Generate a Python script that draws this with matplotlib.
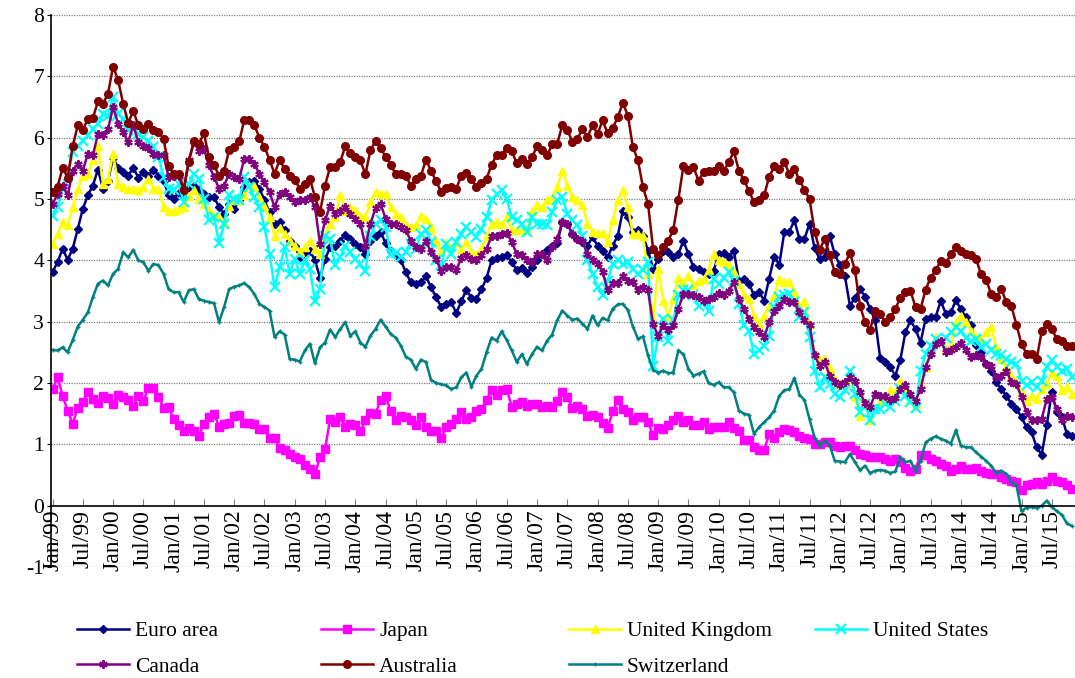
import matplotlib
matplotlib.use('Agg')
import matplotlib.pyplot as plt
import pandas as pd

plt.rcParams['font.family'] = ['Liberation Serif', 'DejaVu Serif']
plt.rcParams['font.size'] = 15.5
plt.rcParams['axes.unicode_minus'] = False

# monthly values, Jan 1999 - Nov 2015 (one row per year)
euro_area = [
    3.81, 3.97, 4.19, 4.01, 4.19, 4.51, 4.84, 5.06, 5.22, 5.48, 5.17, 5.3,
    5.67, 5.51, 5.44, 5.38, 5.51, 5.35, 5.44, 5.38, 5.48, 5.38, 5.3, 5.06,
    5.0, 5.1, 5.03, 5.19, 5.22, 5.14, 5.08, 5.03, 5.03, 4.87, 4.76, 4.92,
    4.84, 4.98, 5.19, 5.27, 5.3, 5.17, 4.98, 4.78, 4.6, 4.62, 4.49, 4.32,
    4.24, 4.05, 4.13, 4.16, 4.0, 3.72, 4.02, 4.21, 4.24, 4.32, 4.42, 4.35,
    4.27, 4.21, 4.1, 4.32, 4.39, 4.46, 4.28, 4.16, 4.08, 4.0, 3.81, 3.64,
    3.62, 3.64, 3.74, 3.56, 3.4, 3.24, 3.29, 3.32, 3.14, 3.33, 3.52, 3.39,
    3.37, 3.53, 3.71, 4.0, 4.04, 4.06, 4.08, 3.97, 3.84, 3.88, 3.79, 3.89,
    4.0, 4.1, 4.17, 4.24, 4.28, 4.62, 4.6, 4.43, 4.35, 4.3, 4.24, 4.38,
    4.24, 4.16, 4.05, 4.24, 4.4, 4.81, 4.7, 4.46, 4.49, 4.4, 4.16, 3.86,
    4.02, 4.16, 4.13, 4.05, 4.1, 4.32, 4.1, 3.89, 3.86, 3.81, 3.78, 3.83,
    4.1, 4.12, 4.05, 4.16, 3.67, 3.7, 3.62, 3.43, 3.49, 3.34, 3.7, 4.06,
    3.93, 4.46, 4.47, 4.65, 4.35, 4.35, 4.6, 4.2, 4.02, 4.06, 4.4, 4.1,
    3.92, 3.75, 3.26, 3.39, 3.53, 3.41, 3.21, 3.02, 2.41, 2.34, 2.26, 2.12,
    2.38, 2.83, 3.02, 2.88, 2.66, 3.05, 3.08, 3.08, 3.34, 3.13, 3.15, 3.35,
    3.2, 3.07, 2.94, 2.62, 2.5, 2.31, 2.2, 2.01, 1.9, 1.79, 1.66, 1.58,
    1.44, 1.28, 1.2, 0.95, 0.83, 1.31, 1.85, 1.52, 1.44, 1.17, 1.13,
]

japan = [
    1.9, 2.09, 1.79, 1.55, 1.33, 1.6, 1.69, 1.85, 1.74, 1.67, 1.79, 1.76,
    1.65, 1.81, 1.77, 1.72, 1.63, 1.78, 1.7, 1.92, 1.92, 1.77, 1.6, 1.61,
    1.41, 1.31, 1.21, 1.27, 1.21, 1.14, 1.33, 1.45, 1.5, 1.29, 1.33, 1.34,
    1.47, 1.48, 1.34, 1.34, 1.33, 1.25, 1.25, 1.11, 1.1, 0.94, 0.91, 0.84,
    0.79, 0.76, 0.67, 0.6, 0.51, 0.79, 0.92, 1.41, 1.36, 1.45, 1.29, 1.33,
    1.31, 1.21, 1.39, 1.51, 1.5, 1.72, 1.79, 1.54, 1.4, 1.47, 1.44, 1.39,
    1.31, 1.45, 1.28, 1.21, 1.21, 1.11, 1.28, 1.33, 1.41, 1.52, 1.41, 1.45,
    1.54, 1.58, 1.72, 1.89, 1.81, 1.89, 1.9, 1.61, 1.66, 1.69, 1.63, 1.66,
    1.66, 1.61, 1.63, 1.61, 1.71, 1.85, 1.77, 1.59, 1.63, 1.58, 1.47, 1.48,
    1.44, 1.34, 1.26, 1.54, 1.72, 1.58, 1.52, 1.39, 1.44, 1.44, 1.36, 1.15,
    1.27, 1.25, 1.32, 1.39, 1.47, 1.36, 1.39, 1.31, 1.31, 1.36, 1.25, 1.28,
    1.29, 1.28, 1.36, 1.27, 1.22, 1.07, 1.07, 0.95, 0.91, 0.9, 1.17, 1.11,
    1.2, 1.25, 1.24, 1.2, 1.14, 1.11, 1.09, 1.01, 1.0, 1.03, 1.03, 0.98,
    0.95, 0.98, 0.97, 0.9, 0.84, 0.82, 0.8, 0.79, 0.79, 0.76, 0.73, 0.76,
    0.71, 0.62, 0.56, 0.6, 0.83, 0.83, 0.76, 0.73, 0.68, 0.65, 0.57, 0.6,
    0.65, 0.6, 0.6, 0.62, 0.57, 0.54, 0.52, 0.51, 0.46, 0.43, 0.41, 0.38,
    0.26, 0.33, 0.36, 0.38, 0.36, 0.41, 0.46, 0.41, 0.38, 0.33, 0.27,
]

united_kingdom = [
    4.27, 4.43, 4.62, 4.57, 4.87, 5.17, 5.38, 5.41, 5.63, 5.87, 5.25, 5.33,
    5.74, 5.25, 5.2, 5.17, 5.17, 5.15, 5.2, 5.33, 5.17, 5.17, 4.87, 4.81,
    4.8, 4.84, 4.87, 5.05, 5.15, 5.0, 4.92, 4.82, 4.73, 4.7, 4.62, 4.89,
    4.98, 4.99, 5.06, 5.22, 5.22, 5.03, 4.89, 4.7, 4.4, 4.53, 4.43, 4.32,
    4.24, 4.13, 4.21, 4.32, 4.19, 4.1, 4.4, 4.6, 4.7, 5.06, 4.81, 4.87,
    4.82, 4.73, 4.7, 4.95, 5.11, 5.08, 5.08, 4.87, 4.76, 4.7, 4.57, 4.54,
    4.57, 4.73, 4.68, 4.54, 4.32, 4.13, 4.28, 4.21, 4.3, 4.19, 4.3, 4.13,
    4.1, 4.19, 4.39, 4.6, 4.62, 4.59, 4.7, 4.49, 4.49, 4.49, 4.51, 4.8,
    4.9, 4.87, 4.98, 5.03, 5.2, 5.46, 5.22, 5.03, 4.99, 4.91, 4.6, 4.47,
    4.44, 4.45, 4.3, 4.65, 4.98, 5.14, 4.87, 4.43, 4.43, 4.4, 3.78, 3.02,
    3.86, 3.34, 3.1, 3.37, 3.72, 3.64, 3.75, 3.59, 3.67, 3.7, 3.85, 4.1,
    4.0, 3.97, 3.92, 3.81, 3.62, 3.43, 3.37, 3.1, 2.96, 3.1, 3.26, 3.43,
    3.7, 3.64, 3.64, 3.48, 3.26, 3.34, 2.96, 2.47, 2.37, 2.39, 2.25, 2.07,
    1.98, 1.99, 2.07, 1.77, 1.47, 1.69, 1.39, 1.6, 1.69, 1.75, 1.88, 1.85,
    2.04, 1.89, 1.74, 1.66, 1.98, 2.26, 2.53, 2.75, 2.69, 2.56, 2.6, 2.99,
    3.1, 3.0, 2.85, 2.75, 2.72, 2.83, 2.91, 2.58, 2.39, 2.26, 2.12, 2.01,
    1.85, 1.71, 1.79, 1.74, 1.9, 1.98, 2.17, 2.12, 1.88, 1.93, 1.82,
]

united_states = [
    4.73, 4.87, 5.17, 5.38, 5.76, 5.86, 5.95, 6.04, 6.14, 6.23, 6.39, 6.35,
    6.67, 6.39, 6.31, 6.12, 6.2, 6.06, 6.01, 5.95, 5.85, 5.68, 5.36, 5.17,
    5.14, 5.24, 4.95, 5.25, 5.41, 5.33, 5.0, 4.65, 4.7, 4.28, 4.6, 5.06,
    5.0, 4.98, 5.36, 5.19, 5.03, 4.87, 4.54, 4.1, 3.56, 3.89, 4.21, 3.78,
    4.02, 3.78, 4.0, 3.86, 3.34, 3.53, 4.4, 4.35, 3.92, 4.05, 4.24, 4.13,
    4.02, 3.94, 3.83, 4.4, 4.6, 4.65, 4.54, 4.1, 4.12, 4.05, 4.13, 4.27,
    4.19, 4.43, 4.49, 4.3, 4.0, 3.92, 4.27, 4.1, 4.3, 4.43, 4.54, 4.46,
    4.38, 4.51, 4.7, 4.98, 5.08, 5.14, 5.0, 4.7, 4.65, 4.6, 4.46, 4.7,
    4.6, 4.6, 4.57, 4.78, 4.98, 5.03, 4.76, 4.65, 4.57, 4.4, 4.0, 3.78,
    3.56, 3.43, 3.67, 3.94, 4.0, 3.94, 3.97, 3.86, 3.78, 3.85, 3.97, 2.28,
    2.75, 3.05, 2.69, 3.02, 3.43, 3.51, 3.51, 3.43, 3.26, 3.32, 3.18, 3.7,
    3.62, 3.72, 3.81, 3.67, 3.29, 2.94, 2.85, 2.47, 2.53, 2.61, 2.77, 3.24,
    3.4, 3.43, 3.45, 3.32, 3.07, 3.15, 2.75, 2.2, 1.93, 2.09, 1.98, 1.82,
    1.77, 1.88, 2.2, 1.82, 1.52, 1.66, 1.39, 1.58, 1.58, 1.66, 1.61, 1.71,
    1.9, 1.79, 1.69, 1.6, 2.2, 2.47, 2.61, 2.72, 2.66, 2.74, 2.83, 2.91,
    2.85, 2.74, 2.69, 2.72, 2.58, 2.64, 2.53, 2.47, 2.45, 2.39, 2.34, 2.31,
    2.04, 1.96, 2.01, 1.93, 2.04, 2.26, 2.37, 2.26, 2.2, 2.23, 2.09,
]

canada = [
    4.92, 5.08, 5.22, 5.06, 5.46, 5.57, 5.46, 5.74, 5.71, 6.06, 6.04, 6.14,
    6.5, 6.23, 6.09, 5.93, 6.2, 5.93, 5.87, 5.83, 5.73, 5.71, 5.71, 5.36,
    5.38, 5.38, 5.17, 5.63, 5.93, 5.79, 5.82, 5.55, 5.36, 5.17, 5.22, 5.41,
    5.36, 5.33, 5.66, 5.66, 5.57, 5.41, 5.27, 5.11, 4.87, 5.08, 5.11, 5.03,
    4.95, 4.99, 4.98, 5.03, 4.87, 4.27, 4.65, 4.89, 4.76, 4.8, 4.87, 4.76,
    4.68, 4.6, 4.24, 4.6, 4.85, 4.92, 4.68, 4.6, 4.6, 4.54, 4.49, 4.32,
    4.21, 4.19, 4.32, 4.13, 4.02, 3.83, 3.89, 3.89, 3.84, 4.04, 4.08, 4.02,
    4.0, 4.08, 4.19, 4.39, 4.4, 4.43, 4.44, 4.3, 4.1, 4.08, 4.0, 3.97,
    4.1, 4.1, 4.0, 4.21, 4.35, 4.62, 4.6, 4.43, 4.35, 4.32, 4.1, 4.0,
    3.94, 3.81, 3.51, 3.63, 3.63, 3.75, 3.67, 3.64, 3.52, 3.57, 3.51, 2.96,
    2.77, 2.94, 2.87, 2.94, 3.21, 3.45, 3.45, 3.43, 3.4, 3.34, 3.37, 3.41,
    3.46, 3.43, 3.5, 3.64, 3.37, 3.21, 3.05, 2.91, 2.83, 2.75, 2.99, 3.18,
    3.26, 3.37, 3.32, 3.32, 3.15, 3.02, 2.94, 2.45, 2.28, 2.34, 2.12, 2.01,
    1.97, 2.01, 2.09, 2.04, 1.85, 1.67, 1.61, 1.82, 1.79, 1.79, 1.72, 1.76,
    1.9, 1.96, 1.82, 1.71, 1.9, 2.26, 2.47, 2.64, 2.69, 2.5, 2.53, 2.58,
    2.66, 2.53, 2.42, 2.45, 2.42, 2.31, 2.27, 2.09, 2.12, 2.2, 2.01, 1.98,
    1.77, 1.52, 1.39, 1.4, 1.41, 1.74, 1.77, 1.58, 1.39, 1.47, 1.44,
]

australia = [
    5.11, 5.2, 5.51, 5.35, 5.86, 6.2, 6.12, 6.31, 6.32, 6.59, 6.55, 6.72,
    7.16, 6.94, 6.55, 6.24, 6.44, 6.2, 6.14, 6.23, 6.13, 6.1, 5.98, 5.53,
    5.41, 5.41, 5.14, 5.6, 5.94, 5.9, 6.07, 5.68, 5.55, 5.38, 5.46, 5.8,
    5.85, 5.94, 6.29, 6.28, 6.2, 6.0, 5.85, 5.64, 5.41, 5.64, 5.49, 5.38,
    5.31, 5.17, 5.25, 5.33, 5.03, 4.78, 5.22, 5.52, 5.52, 5.6, 5.86, 5.75,
    5.68, 5.63, 5.4, 5.8, 5.94, 5.83, 5.69, 5.56, 5.4, 5.4, 5.37, 5.22,
    5.33, 5.38, 5.64, 5.46, 5.29, 5.12, 5.18, 5.2, 5.17, 5.38, 5.42, 5.33,
    5.19, 5.26, 5.33, 5.56, 5.72, 5.72, 5.83, 5.78, 5.58, 5.66, 5.57, 5.68,
    5.86, 5.8, 5.71, 5.89, 5.9, 6.2, 6.13, 5.93, 5.98, 6.14, 6.01, 6.2,
    6.06, 6.28, 6.07, 6.16, 6.33, 6.57, 6.36, 5.85, 5.63, 5.19, 4.92, 4.19,
    4.08, 4.21, 4.32, 4.5, 4.99, 5.53, 5.48, 5.52, 5.3, 5.44, 5.45, 5.46,
    5.53, 5.46, 5.6, 5.78, 5.46, 5.31, 5.13, 4.95, 4.98, 5.06, 5.36, 5.53,
    5.49, 5.6, 5.41, 5.49, 5.31, 5.15, 5.0, 4.47, 4.17, 4.35, 4.08, 3.81,
    3.78, 3.94, 4.12, 3.84, 3.26, 2.99, 2.87, 3.18, 3.13, 2.99, 3.07, 3.21,
    3.39, 3.48, 3.5, 3.24, 3.21, 3.52, 3.72, 3.84, 3.99, 3.95, 4.1, 4.22,
    4.16, 4.1, 4.08, 4.02, 3.77, 3.68, 3.45, 3.4, 3.53, 3.32, 3.25, 2.95,
    2.63, 2.48, 2.47, 2.39, 2.84, 2.97, 2.88, 2.72, 2.69, 2.61, 2.6,
]

switzerland = [
    2.54, 2.53, 2.58, 2.5, 2.7, 2.92, 3.03, 3.15, 3.4, 3.62, 3.67, 3.59,
    3.78, 3.86, 4.13, 4.05, 4.17, 4.0, 3.97, 3.83, 3.94, 3.92, 3.78, 3.53,
    3.48, 3.48, 3.32, 3.51, 3.53, 3.37, 3.34, 3.32, 3.3, 2.99, 3.24, 3.53,
    3.57, 3.59, 3.63, 3.56, 3.45, 3.29, 3.24, 3.18, 2.75, 2.84, 2.79, 2.39,
    2.38, 2.35, 2.53, 2.64, 2.32, 2.58, 2.66, 2.87, 2.75, 2.88, 2.99, 2.77,
    2.84, 2.66, 2.59, 2.77, 2.88, 3.03, 2.92, 2.8, 2.74, 2.61, 2.43, 2.38,
    2.23, 2.38, 2.34, 2.05, 2.0, 1.98, 1.96, 1.9, 1.93, 2.09, 2.17, 1.94,
    2.12, 2.23, 2.5, 2.74, 2.69, 2.84, 2.7, 2.53, 2.34, 2.47, 2.31, 2.47,
    2.59, 2.53, 2.69, 2.79, 3.02, 3.18, 3.1, 3.03, 3.05, 2.97, 2.88, 3.1,
    2.94, 3.06, 3.02, 3.21, 3.28, 3.29, 3.19, 2.92, 2.72, 2.76, 2.45, 2.21,
    2.17, 2.2, 2.16, 2.17, 2.53, 2.47, 2.23, 2.12, 2.15, 2.19, 2.0, 1.97,
    2.01, 1.93, 1.93, 1.85, 1.55, 1.5, 1.48, 1.17, 1.28, 1.36, 1.44, 1.55,
    1.79, 1.88, 1.9, 2.08, 1.81, 1.72, 1.41, 1.11, 0.98, 1.06, 0.98, 0.73,
    0.72, 0.71, 0.84, 0.71, 0.58, 0.65, 0.53, 0.57, 0.58, 0.57, 0.53, 0.56,
    0.79, 0.71, 0.73, 0.57, 0.73, 1.03, 1.09, 1.13, 1.09, 1.06, 1.01, 1.23,
    0.98, 0.95, 0.95, 0.87, 0.8, 0.73, 0.65, 0.53, 0.57, 0.52, 0.38, 0.33,
    -0.09, -0.03, -0.02, -0.04, 0.0, 0.08, -0.02, -0.09, -0.15, -0.29, -0.33,
]

months = pd.date_range('1999-01-01', periods=len(euro_area), freq='MS')
tick_pos = list(range(0, len(months), 6))
tick_labels = [months[i].strftime('%b/%y') for i in tick_pos]

series = [
    ('Euro area', euro_area, '#000080', 'D', 4.2, 1),
    ('Japan', japan, '#FF00FF', 's', 5.5, 1),
    ('United Kingdom', united_kingdom, '#FFFF00', '^', 6, 1),
    ('United States', united_states, '#00FFFF', 'x', 6.5, 1.6),
    ('Canada', canada, '#800080', (6, 2, 0), 6, 1.5),
    ('Australia', australia, '#800000', 'o', 5.5, 1),
    ('Switzerland', switzerland, '#008080', '+', 3, 1),
]
for name, vals, *_ in series:
    assert len(vals) == len(months), (name, len(vals))

fig = plt.figure(figsize=(10.75, 6.78), dpi=100)
ax = fig.add_axes([51 / 1075, 1 - 567 / 678, 1 - 51 / 1075, (567 - 15) / 678])

x = list(range(len(months)))
lines = {}
for name, vals, color, marker, ms, mew in series:
    ln, = ax.plot(x, vals, color=color, lw=1.8, marker=marker, ms=ms,
                  mfc=color, mec=color, mew=mew, label=name)
    lines[name] = ln

ax.set_ylim(-1, 8)
ax.set_xlim(-0.3, 202.6)
ax.set_yticks(range(-1, 9))
ax.set_xticks(tick_pos)
ax.set_xticklabels(tick_labels)
ax.tick_params(axis='x', direction='in', length=5, color='#808080', pad=3,
               labelrotation=90, labelsize=17)
ax.tick_params(axis='y', direction='out', length=3, pad=2)

for v in range(-1, 9):
    if v != 0:
        ax.axhline(v, color='#808080', lw=0.9, ls=(0, (1, 1)), zorder=0)

ax.spines['top'].set_visible(False)
ax.spines['right'].set_visible(False)
ax.spines['bottom'].set_position(('data', 0))
ax.spines['bottom'].set_linewidth(1.2)
ax.spines['left'].set_linewidth(1.2)

# legend laid out in fixed columns like the original
cols = [(77, ['Euro area', 'Canada']),
        (321, ['Japan', 'Australia']),
        (569, ['United Kingdom', 'Switzerland']),
        (815, ['United States'])]
for xpx, names in cols:
    fig.legend([lines[n] for n in names], names, loc='upper left',
               bbox_to_anchor=(xpx / 1075, 1 - 621 / 678), frameon=False,
               borderpad=0, borderaxespad=0, handlelength=2.4,
               handletextpad=0.3, labelspacing=0.72)

fig.savefig('out.png', dpi=100)
